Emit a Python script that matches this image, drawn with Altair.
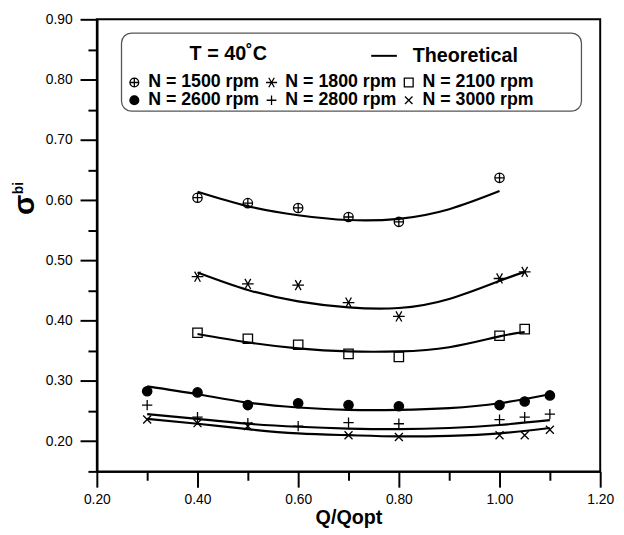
import altair as alt
import pandas as pd

# ---------------- data ----------------
series_labels = ["N = 1500 rpm", "N = 1800 rpm", "N = 2100 rpm",
                 "N = 2600 rpm", "N = 2800 rpm", "N = 3000 rpm"]
# legend order (the legend grid fills column by column)
legend_order = ["N = 1500 rpm", "N = 2600 rpm", "N = 1800 rpm",
                "N = 2800 rpm", "N = 2100 rpm", "N = 3000 rpm"]

# measured points
x_1500 = [0.4, 0.5, 0.6, 0.7, 0.8, 1.0]
y_1500 = [0.604, 0.595, 0.587, 0.572, 0.564, 0.637]
x_1800 = [0.4, 0.5, 0.6, 0.7, 0.8, 1.0, 1.05]
y_1800 = [0.473, 0.461, 0.459, 0.430, 0.407, 0.470, 0.481]
x_2100 = [0.4, 0.5, 0.6, 0.7, 0.8, 1.0, 1.05]
y_2100 = [0.380, 0.370, 0.360, 0.345, 0.340, 0.375, 0.386]
x_2600 = [0.3, 0.4, 0.5, 0.6, 0.7, 0.8, 1.0, 1.05, 1.1]
y_2600 = [0.283, 0.281, 0.260, 0.263, 0.260, 0.258, 0.260, 0.266, 0.276]
x_2800 = [0.3, 0.4, 0.5, 0.6, 0.7, 0.8, 1.0, 1.05, 1.1]
y_2800 = [0.260, 0.240, 0.230, 0.225, 0.231, 0.229, 0.236, 0.240, 0.245]
x_3000 = [0.3, 0.4, 0.5, 0.7, 0.8, 1.0, 1.05, 1.1]
y_3000 = [0.236, 0.230, 0.225, 0.210, 0.207, 0.210, 0.210, 0.219]

# theoretical curves
tx_1500 = [0.4, 0.5, 0.6, 0.7, 0.8, 0.9, 1.0]
ty_1500 = [0.614, 0.590, 0.575, 0.567, 0.569, 0.585, 0.615]
tx_1800 = [0.4, 0.5, 0.6, 0.7, 0.8, 0.9, 1.0, 1.05]
ty_1800 = [0.480, 0.451, 0.432, 0.422, 0.421, 0.436, 0.466, 0.481]
tx_2100 = [0.4, 0.5, 0.6, 0.7, 0.8, 0.9, 1.0, 1.05]
ty_2100 = [0.378, 0.364, 0.354, 0.349, 0.349, 0.356, 0.374, 0.381]
tx_2600 = [0.3, 0.4, 0.5, 0.6, 0.7, 0.8, 0.9, 1.0, 1.1]
ty_2600 = [0.291, 0.278, 0.264, 0.256, 0.252, 0.252, 0.255, 0.263, 0.278]
tx_2800 = [0.3, 0.4, 0.5, 0.6, 0.7, 0.8, 0.9, 1.0, 1.1]
ty_2800 = [0.245, 0.237, 0.229, 0.224, 0.221, 0.220, 0.222, 0.227, 0.235]
tx_3000 = [0.3, 0.4, 0.5, 0.6, 0.7, 0.8, 0.9, 1.0, 1.1]
ty_3000 = [0.237, 0.229, 0.220, 0.213, 0.210, 0.208, 0.209, 0.213, 0.222]

x_major = [0.2, 0.4, 0.6, 0.8, 1.0, 1.2]
x_minor = [0.3, 0.5, 0.7, 0.9, 1.1]
y_major = [0.2, 0.3, 0.4, 0.5, 0.6, 0.7, 0.8, 0.9]
y_minor = [0.15, 0.25, 0.35, 0.45, 0.55, 0.65, 0.75, 0.85]

# ---------------- build tables ----------------
pts_x = [x_1500, x_1800, x_2100, x_2600, x_2800, x_3000]
pts_y = [y_1500, y_1800, y_2100, y_2600, y_2800, y_3000]
cur_x = [tx_1500, tx_1800, tx_2100, tx_2600, tx_2800, tx_3000]
cur_y = [ty_1500, ty_1800, ty_2100, ty_2600, ty_2800, ty_3000]

rows = []
for lab, xs, ys in zip(series_labels, pts_x, pts_y):
    for xv, yv in zip(xs, ys):
        rows.append({"series": lab, "q": xv, "s": yv})
points_df = pd.DataFrame(rows)

rows = []
for lab, xs, ys in zip(series_labels, cur_x, cur_y):
    for xv, yv in zip(xs, ys):
        rows.append({"series": lab, "kind": "Theoretical", "q": xv, "s": yv})
curves_df = pd.DataFrame(rows)

shape_by_series = {
    "N = 1500 rpm": "M-1,0A1,1,0,1,1,1,0A1,1,0,1,1,-1,0ZM-1,0L1,0M0,-1L0,1",
    "N = 1800 rpm": "M-1.25,0L1.25,0M-0.62,-1.08L0.62,1.08M-0.62,1.08L0.62,-1.08",
    "N = 2100 rpm": "square",
    "N = 2600 rpm": "circle",
    "N = 2800 rpm": "M-1.1,0L1.1,0M0,-1.1L0,1.1",
    "N = 3000 rpm": "M-0.85,-0.85L0.85,0.85M-0.85,0.85L0.85,-0.85",
}
fill_by_series = {"N = 2600 rpm": "black"}
shape_range = [shape_by_series[s] for s in legend_order]
fill_range = [fill_by_series.get(s, "transparent") for s in legend_order]
stroke_range = ["black"] * len(legend_order)

FONT = "Liberation Sans"

x_scale = alt.Scale(domain=[0.2, 1.2], nice=False, zero=False)
y_scale = alt.Scale(domain=[0.15, 0.9], nice=False, zero=False)

# minor-tick axes (on the curve layer)
x_axis_minor = alt.Axis(values=x_minor, tickSize=9, labels=False, title=None,
                        grid=False, orient="bottom")
y_axis_minor = alt.Axis(values=y_minor, tickSize=9, labels=False, title=None,
                        grid=False, orient="left")
# major-tick axes (on the point layer)
x_axis_major = alt.Axis(values=x_major, tickSize=16, format=".2f",
                        labelFlush=False, labelOverlap=False, labelPadding=6,
                        title="Q/Qopt", titleFontSize=20, titleFontWeight="bold",
                        titlePadding=1, grid=False, orient="bottom")
y_axis_major = alt.Axis(values=y_major, tickSize=17, format=".2f",
                        labelFlush=False, labelOverlap=False, labelPadding=8,
                        title=None, grid=False, orient="left")

curves = alt.Chart(curves_df).mark_line(strokeWidth=2.2, interpolate="natural").encode(
    x=alt.X("q:Q", scale=x_scale, axis=x_axis_minor),
    y=alt.Y("s:Q", scale=y_scale, axis=y_axis_minor),
    detail="series:N",
    color=alt.Color(
        "kind:N",
        scale=alt.Scale(domain=["Theoretical"], range=["black"]),
        legend=alt.Legend(
            orient="none", legendX=94, legendY=23,
            title="T = 40˚C", titleOrient="left", titleFontSize=20,
            titleFontWeight="bold", titleFont=FONT, titlePadding=104,
            titleColor="black", titleLimit=400,
            padding=0, symbolType="stroke", symbolSize=676,
            symbolStrokeWidth=2, labelFontSize=20, labelFontWeight="bold",
            labelFont=FONT, labelColor="black", labelOffset=15,
            strokeColor="transparent", fillColor="transparent",
        ),
    ),
)

shape_legend = alt.Legend(
    orient="none", legendX=29, legendY=55, columns=3,
    title=None, padding=0, fillColor="transparent", strokeColor="transparent",
    labelFont=FONT, labelFontWeight="bold", labelFontSize=18,
    labelColor="black", labelLimit=0, labelOffset=5,
    symbolStrokeColor="black", symbolStrokeWidth=1.3,
    symbolSize=80, columnPadding=3, rowPadding=-6,
)

points = alt.Chart(points_df).mark_point(size=90, strokeWidth=1.3, opacity=1).encode(
    x=alt.X("q:Q", scale=x_scale, axis=x_axis_major),
    y=alt.Y("s:Q", scale=y_scale, axis=y_axis_major),
    shape=alt.Shape("series:N", scale=alt.Scale(domain=legend_order, range=shape_range),
                    legend=shape_legend),
    fill=alt.Fill("series:N", scale=alt.Scale(domain=legend_order, range=fill_range),
                  legend=shape_legend),
    stroke=alt.Stroke("series:N", scale=alt.Scale(domain=legend_order, range=stroke_range),
                      legend=shape_legend),
)

# rounded frame around the legend block
legend_box = alt.Chart(pd.DataFrame({"box": ["legend"]})).mark_rect(
    cornerRadius=10, fillOpacity=0, stroke="#555555", strokeWidth=1.3,
).encode(x=alt.value(25), x2=alt.value(491), y=alt.value(14), y2=alt.value(93))

sig = alt.Chart(pd.DataFrame({"t": ["σ"]})).mark_text(
    angle=270, fontSize=30, fontWeight="bold", font=FONT, align="center",
    baseline="middle", color="black",
).encode(text="t:N", x=alt.value(-73), y=alt.value(188))

sub = alt.Chart(pd.DataFrame({"t": ["bi"]})).mark_text(
    angle=270, fontSize=14, fontWeight="bold", font=FONT, align="center",
    baseline="middle", color="black",
).encode(text="t:N", x=alt.value(-79), y=alt.value(171))

chart = alt.layer(legend_box, curves, points, sig, sub).resolve_scale(
    x="independent", y="independent"
).properties(
    width=510, height=458,
    autosize=alt.AutoSizeParams(type="none"),
    padding={"left": 90, "top": 8, "right": 16, "bottom": 61},
    background="white",
).configure_view(
    stroke="black", strokeWidth=2,
).configure_axis(
    domainColor="black", domainWidth=2, tickColor="black", tickWidth=2,
    labelFont=FONT, labelFontSize=14, labelColor="black",
    titleFont=FONT, titleColor="black",
)

chart.save("out.html", embed_options={"renderer": "svg", "actions": False})
